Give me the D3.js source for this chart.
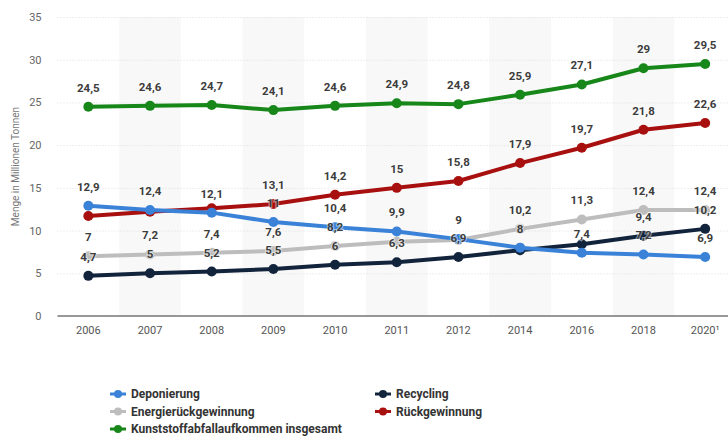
<!DOCTYPE html>
<html lang='de'>
<head>
  <meta charset='utf-8'/>
  <title>Kunststoffabfall</title>
  <script src='https://d3js.org/d3.v7.min.js'></script>
  <style>
    body{margin:0;background:#fff;font-family:Roboto, 'Liberation Sans', sans-serif;}
    svg{display:block;}
  </style>
</head>
<body>
<svg id='chart'></svg>
<script>
// data
const years = ['2006','2007','2008','2009','2010','2011','2012','2014','2016','2018','2020¹'];
const deponierung = [12.9, 12.4, 12.1, 11, 10.4, 9.9, 9, 8, 7.4, 7.2, 6.9];
const energie     = [7, 7.2, 7.4, 7.6, 8.2, 8.7, 8.9, 10.2, 11.3, 12.4, 12.4];
const recycling   = [4.7, 5, 5.2, 5.5, 6, 6.3, 6.9, 7.7, 8.4, 9.4, 10.2];
const rueckgew    = [11.7, 12.2, 12.6, 13.1, 14.2, 15, 15.8, 17.9, 19.7, 21.8, 22.6];
const insgesamt   = [24.5, 24.6, 24.7, 24.1, 24.6, 24.9, 24.8, 25.9, 27.1, 29, 29.5];
const yTicks = [0, 5, 10, 15, 20, 25, 30, 35];

const series = [
  {name: 'Deponierung', values: deponierung, color: '#3a82d8'},
  {name: 'Energierückgewinnung', values: energie, color: '#bdbdbd'},
  {name: 'Kunststoffabfallaufkommen insgesamt', values: insgesamt, color: '#17871a'},
  {name: 'Recycling', values: recycling, color: '#12243c'},
  {name: 'Rückgewinnung', values: rueckgew, color: '#a8100f'}
];
// order in which series are drawn and labels get priority
const drawOrder = ['Rückgewinnung', 'Recycling', 'Energierückgewinnung', 'Deponierung', 'Kunststoffabfallaufkommen insgesamt'];
const labelOrder = ['Kunststoffabfallaufkommen insgesamt', 'Deponierung', 'Energierückgewinnung', 'Recycling', 'Rückgewinnung'];

const W = 728, H = 439;
const svg = d3.select('#chart').attr('width', W).attr('height', H);

const x = d3.scaleBand().domain(years).range([57.5, 736]);
const y = d3.scaleLinear().domain([0, 35]).range([316, 17]);
const cx = d => x(d) + x.bandwidth() / 2;

// alternating column shading
svg.append('g').selectAll('rect')
  .data(years.filter((d, i) => i % 2 === 1))
  .join('rect')
    .attr('x', d => x(d)).attr('y', y(35))
    .attr('width', x.bandwidth()).attr('height', y(0) - y(35))
    .attr('fill', '#f8f8f8');

// grid + y axis
const yAxis = svg.append('g')
  .attr('transform', 'translate(57.5,0)')
  .call(d3.axisLeft(y).tickValues(yTicks).tickSize(-(W - 57.5)).tickPadding(16).tickFormat(d3.format('d')));
yAxis.select('.domain').remove();
yAxis.selectAll('.tick line').attr('stroke', '#dcdcdc').attr('stroke-dasharray', '1,2');
yAxis.selectAll('.tick text').attr('fill', '#666').style('font-size', '11px').style('font-family', 'Roboto, sans-serif');

// baseline
svg.append('line')
  .attr('x1', 57.5).attr('x2', W).attr('y1', y(0)).attr('y2', y(0))
  .attr('stroke', '#777').attr('stroke-width', 1.5);

// x axis labels
const xAxis = svg.append('g')
  .attr('transform', `translate(0,${y(0)})`)
  .call(d3.axisBottom(x).tickSize(0).tickPadding(10));
xAxis.select('.domain').remove();
xAxis.selectAll('.tick text').attr('fill', '#555').style('font-size', '11px').style('font-family', 'Roboto, sans-serif');

// y title
svg.append('text')
  .attr('transform', `translate(19,${(y(0) + y(35)) / 2}) rotate(-90)`)
  .attr('text-anchor', 'middle')
  .attr('fill', '#777')
  .style('font-size', '10px')
  .text('Menge in Millionen Tonnen');

// lines
const line = d3.line().x((d, i) => cx(years[i])).y(d => y(d));
const byName = new Map(series.map(s => [s.name, s]));
drawOrder.forEach(name => {
  const s = byName.get(name);
  const g = svg.append('g');
  g.append('path')
    .attr('d', line(s.values))
    .attr('fill', 'none')
    .attr('stroke', s.color)
    .attr('stroke-width', 4)
    .attr('stroke-linejoin', 'round');
  g.selectAll('circle')
    .data(s.values)
    .join('circle')
      .attr('cx', (d, i) => cx(years[i]))
      .attr('cy', d => y(d))
      .attr('r', 5)
      .attr('fill', s.color);
});

// data labels, hidden when they collide with a label of higher priority
const fmt = v => String(v).replace('.', ',');
const labelsG = svg.append('g');
const placed = [];
labelOrder.forEach(name => {
  const s = byName.get(name);
  s.values.forEach((v, i) => {
    const t = labelsG.append('text')
      .attr('x', cx(years[i]))
      .attr('y', y(v) - 15)
      .attr('text-anchor', 'middle')
      .attr('fill', '#3c3c3c')
      .attr('stroke', '#fff')
      .attr('stroke-width', 2)
      .attr('stroke-opacity', 0.5)
      .attr('paint-order', 'stroke')
      .style('font-size', '11.5px')
      .style('font-weight', 'bold')
      .text(fmt(v));
    const b = t.node().getBBox();
    const hit = placed.some(p => b.x < p.x + p.width && b.x + b.width > p.x && b.y + 1 < p.y + p.height && b.y + b.height - 1 > p.y);
    if (hit) t.remove();
    else placed.push(b);
  });
});

// legend
const legendItems = [
  {name: 'Deponierung', col: 0, row: 0},
  {name: 'Energierückgewinnung', col: 0, row: 1},
  {name: 'Kunststoffabfallaufkommen insgesamt', col: 0, row: 2},
  {name: 'Recycling', col: 1, row: 0},
  {name: 'Rückgewinnung', col: 1, row: 1}
];
const lg = svg.append('g').selectAll('g')
  .data(legendItems)
  .join('g')
    .attr('transform', d => `translate(${d.col ? 375 : 110},${394 + d.row * 17.5})`);
lg.append('line')
  .attr('x1', 0).attr('x2', 16).attr('y1', 0).attr('y2', 0)
  .attr('stroke', d => byName.get(d.name).color).attr('stroke-width', 3);
lg.append('circle')
  .attr('cx', 8).attr('r', 4)
  .attr('fill', d => byName.get(d.name).color);
lg.append('text')
  .attr('x', 21).attr('dy', '0.35em')
  .attr('fill', '#333')
  .style('font-size', '12px')
  .style('font-weight', 'bold')
  .text(d => d.name);
</script>
</body>
</html>
